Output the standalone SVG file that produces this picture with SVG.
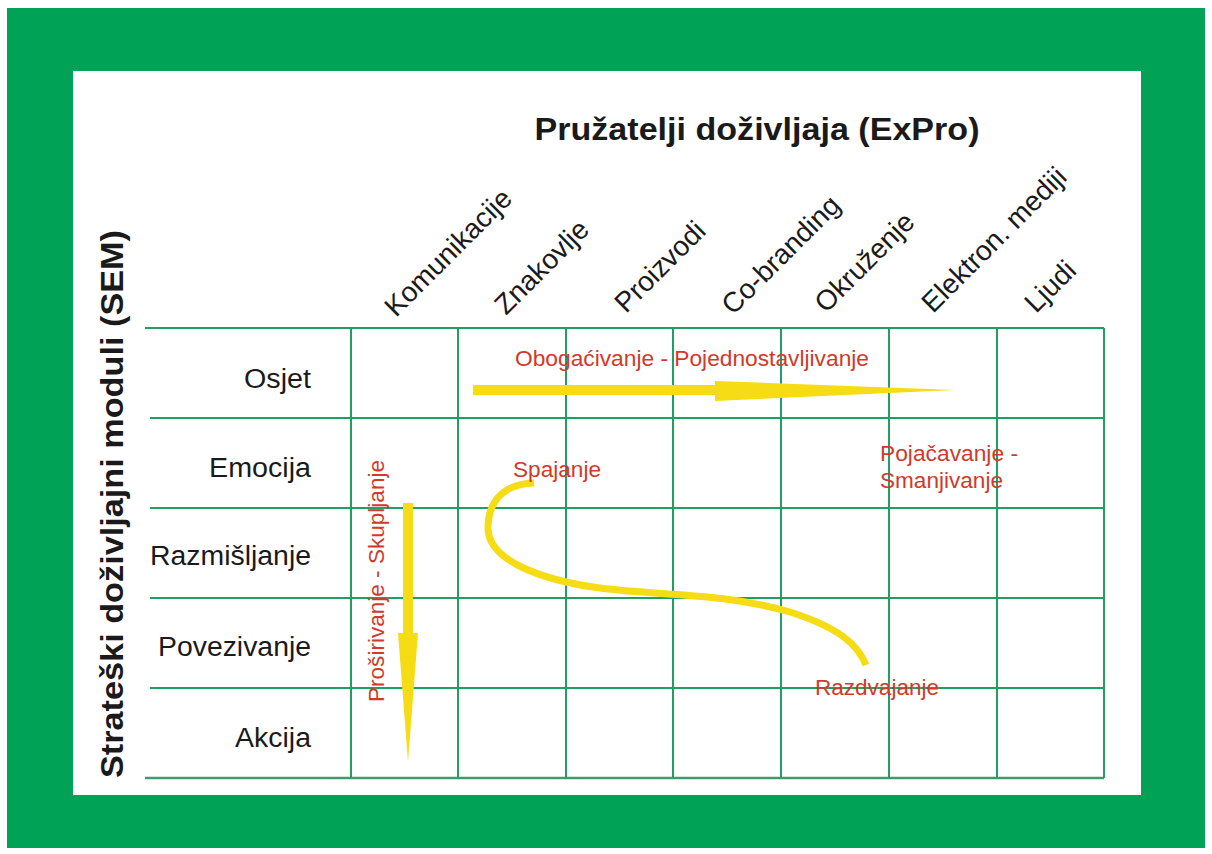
<svg xmlns="http://www.w3.org/2000/svg" width="1212" height="854" viewBox="0 0 1212 854">
<style>
.lbl{font-family:"Liberation Sans",Arial,sans-serif;fill:#1a1a1a}
.row{font-size:27px;text-anchor:end}
.col{font-size:28px}
.red{font-family:"Liberation Sans",Arial,sans-serif;fill:#d03a2a;font-size:22px}
.grid line{stroke:#1fa060;stroke-width:2}
.yel{fill:#f5dc14}
</style>
<rect x="0" y="0" width="1212" height="854" fill="#ffffff"/>
<rect x="7" y="8" width="1198" height="840" fill="#00a355"/>
<rect x="73" y="71" width="1068" height="724" fill="#ffffff"/>
<g id="title"><text class="lbl" x="757" y="140" font-size="32" font-weight="bold" text-anchor="middle" textLength="445" lengthAdjust="spacingAndGlyphs">Pružatelji doživljaja (ExPro)</text></g>
<g id="sem"><text class="lbl" transform="translate(123,504) rotate(-90)" font-size="32" font-weight="bold" text-anchor="middle" textLength="548" lengthAdjust="spacingAndGlyphs">Strateški doživljajni moduli (SEM)</text></g>
<g class="grid" id="grid">
<line x1="145" y1="328" x2="1104" y2="328"/>
<line x1="150" y1="418" x2="1104" y2="418"/>
<line x1="150" y1="508" x2="1104" y2="508"/>
<line x1="150" y1="598" x2="1104" y2="598"/>
<line x1="150" y1="688" x2="1104" y2="688"/>
<line x1="145" y1="778" x2="1104" y2="778" style="stroke:#3f9a70;stroke-width:2.5"/>
<line x1="351" y1="328" x2="351" y2="778"/>
<line x1="458" y1="328" x2="458" y2="778"/>
<line x1="566" y1="328" x2="566" y2="778"/>
<line x1="673" y1="328" x2="673" y2="778"/>
<line x1="781" y1="328" x2="781" y2="778"/>
<line x1="889" y1="328" x2="889" y2="778"/>
<line x1="997" y1="328" x2="997" y2="778"/>
<line x1="1104" y1="328" x2="1104" y2="778"/>
</g>
<g id="rows">
<text class="lbl row" x="311" y="388" textLength="67" lengthAdjust="spacingAndGlyphs">Osjet</text>
<text class="lbl row" x="311" y="477" textLength="102" lengthAdjust="spacingAndGlyphs">Emocija</text>
<text class="lbl row" x="311" y="565" textLength="161" lengthAdjust="spacingAndGlyphs">Razmišljanje</text>
<text class="lbl row" x="311" y="656" textLength="153" lengthAdjust="spacingAndGlyphs">Povezivanje</text>
<text class="lbl row" x="311" y="747" textLength="76" lengthAdjust="spacingAndGlyphs">Akcija</text>
</g>
<g id="cols">
<text class="lbl col" transform="translate(396,318) rotate(-45)">Komunikacije</text>
<text class="lbl col" transform="translate(506,316) rotate(-45)">Znakovlje</text>
<text class="lbl col" transform="translate(626,314) rotate(-45)">Proizvodi</text>
<text class="lbl col" transform="translate(733,316) rotate(-45)">Co-branding</text>
<text class="lbl col" transform="translate(826,314) rotate(-45)">Okruženje</text>
<text class="lbl col" transform="translate(933,314) rotate(-45)">Elektron. mediji</text>
<text class="lbl col" transform="translate(1036,314) rotate(-45)">Ljudi</text>
</g>
<g id="connectors">
<polygon class="yel" points="473,385 715,385 715,381 955,390 715,401 715,395 473,395"/>
<polygon class="yel" points="403,503 413,503 413,633 418,633 408,762 398,633 403,633"/>
<path d="M534,483 C500,484 488,505 488,528 C488,560 540,580 600,588 C660,596 720,592 790,612 C840,628 858,645 866,665" fill="none" stroke="#f5dc14" stroke-width="7"/>
</g>
<g id="labels">
<text class="red" x="515" y="366" textLength="354" lengthAdjust="spacingAndGlyphs">Obogaćivanje - Pojednostavljivanje</text>
<text class="red" x="513" y="477" textLength="88" lengthAdjust="spacingAndGlyphs">Spajanje</text>
<text class="red" x="880" y="461" textLength="138" lengthAdjust="spacingAndGlyphs">Pojačavanje -</text>
<text class="red" x="880" y="488" textLength="123" lengthAdjust="spacingAndGlyphs">Smanjivanje</text>
<text class="red" x="815" y="695" textLength="124" lengthAdjust="spacingAndGlyphs">Razdvajanje</text>
<text class="red" transform="translate(384,702) rotate(-90)" textLength="242" lengthAdjust="spacingAndGlyphs">Proširivanje - Skupljanje</text>
</g>
</svg>
